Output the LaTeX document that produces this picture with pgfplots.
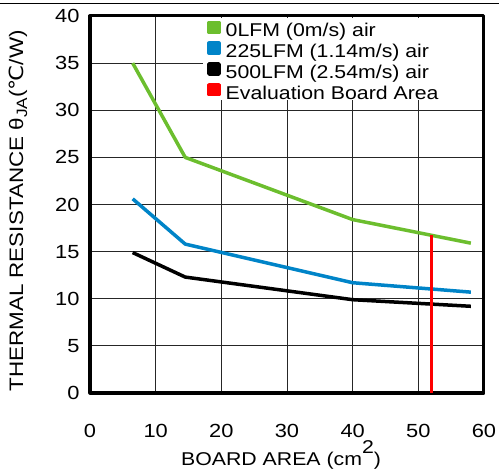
\documentclass[border=0pt]{standalone}
\usepackage{pgfplots}
\pgfplotsset{compat=1.18}
\usepackage{fontspec}
\setmainfont{Liberation Sans}[FakeStretch=1.15]
\newfontfamily\dejavu{DejaVu Sans}[FakeStretch=1.15]
\definecolor{cgreen}{RGB}{108,190,46}
\definecolor{cblue}{RGB}{0,132,200}
\definecolor{cred}{RGB}{255,0,0}
\begin{document}
\begin{tikzpicture}
\path[use as bounding box] (0,0) rectangle (499bp,470bp);
\draw[line width=1.3bp] (0,466.5bp) -- (499bp,466.5bp);
\begin{axis}[
  at={(90bp,77bp)}, anchor=south west, scale only axis,
  width=394bp, height=377bp,
  xmin=0, xmax=60, ymin=0, ymax=40,
  xtick={0,10,...,60}, ytick={0,5,...,40},
  grid=major, major grid style={black!85, line width=0.8bp},
  major tick length=0pt,
  axis line style={line width=3bp},
  tick label style={font=\fontsize{19bp}{22bp}\selectfont},
  /pgf/number format/assume math mode=true,
  xticklabel style={yshift=-28bp},
  yticklabel style={xshift=-7bp},
  xlabel={BOARD AREA (cm\raisebox{12bp}{2})},
  xlabel style={at={(axis description cs:0.485,-0.193)}, anchor=base, font=\fontsize{18.5bp}{22bp}\selectfont},
  ylabel={THERMAL RESISTANCE θ\raisebox{-4bp}{\fontsize{15bp}{15bp}\selectfont JA}({\dejavu ℃}/W)},
  ylabel style={at={(axis description cs:-0.183,0.483)}, anchor=center, font=\fontsize{19.5bp}{22bp}\selectfont},
  legend style={at={(axis description cs:0.297,0.988)}, anchor=north west, draw=none, fill=none,
    inner sep=0pt, row sep=0pt, column sep=5bp,
    font=\fontsize{18.5bp}{19bp}\selectfont,
    nodes={inner sep=0pt, text height=12.5bp, text depth=4.5bp}},
  legend cell align=left,
  legend image code/.code={\fill[#1] (0bp,0.5bp) rectangle (10bp,10.5bp);},
  line join=round,
]
\fill[white] (axis cs:17.2,31.1) rectangle (axis cs:59.75,39.8);
\addplot[cgreen, line width=3.5bp] coordinates {(6.5,35) (14.5,25) (40,18.4) (58,15.9)};
\addlegendentry{0LFM (0m/s) air}
\addplot[cblue, line width=3.5bp] coordinates {(6.5,20.6) (14.5,15.8) (40,11.7) (58,10.7)};
\addlegendentry{225LFM (1.14m/s) air}
\addplot[black, line width=3.5bp] coordinates {(6.5,14.9) (14.5,12.3) (40,9.9) (58,9.2)};
\addlegendentry{500LFM (2.54m/s) air}
\addplot[cred, line width=3.5bp] coordinates {(52,0) (52,16.8)};
\addlegendentry{Evaluation Board Area}
\end{axis}
\end{tikzpicture}
\end{document}
